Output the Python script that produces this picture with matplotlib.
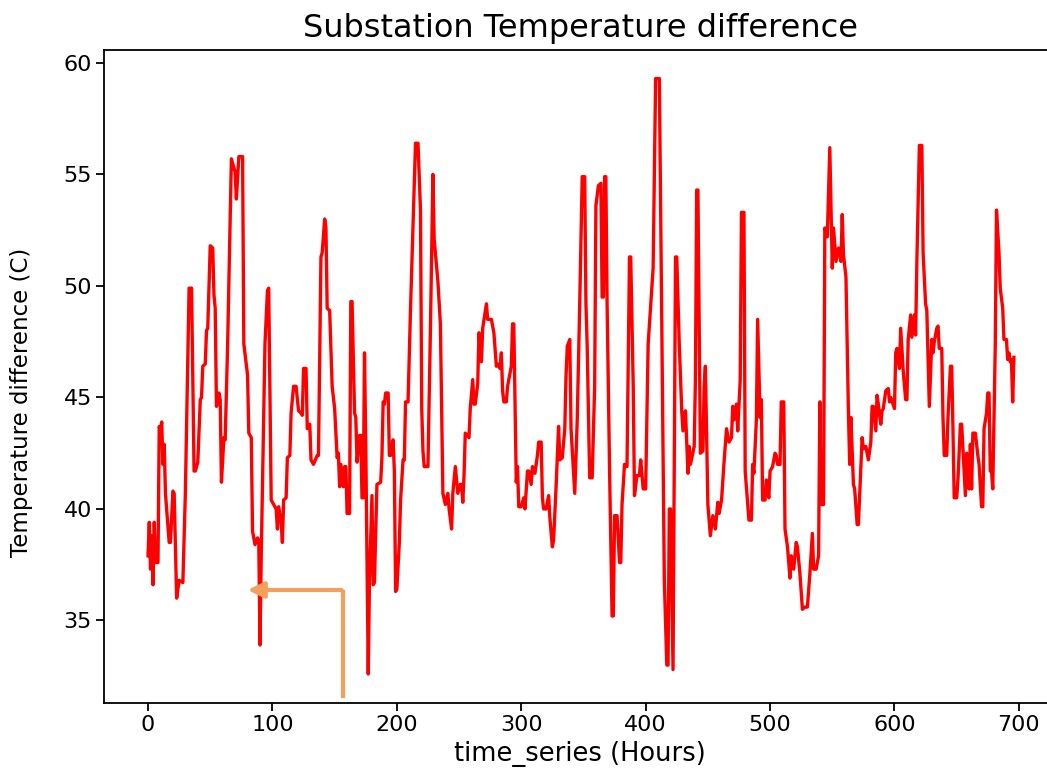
import matplotlib
matplotlib.use("Agg")
import matplotlib.pyplot as plt
from matplotlib.patches import FancyArrowPatch
from matplotlib.lines import Line2D

# values (hour, temperature difference)
hours = [0, 1, 2, 3, 4, 5, 6, 8, 9, 10, 11, 12, 13, 14, 17, 18, 20, 21, 23, 25,
         28, 30, 33, 35, 37, 38, 40, 42, 43, 44, 46, 47, 48, 50, 52, 53, 54, 55, 57, 58,
         59, 61, 62, 64, 67, 68, 70, 71, 73, 75, 76, 77, 80, 81, 83, 84, 86, 88, 89, 90,
         91, 92, 94, 96, 97, 99, 101, 103, 104, 105, 107, 108, 109, 111, 112, 114, 115, 117, 119, 121,
         123, 124, 125, 127, 128, 130, 131, 133, 136, 137, 139, 140, 142, 143, 144, 146, 148, 150, 152, 153,
         154, 155, 157, 158, 159, 160, 162, 163, 164, 166, 167, 168, 170, 171, 172, 173, 174, 175, 177, 178,
         180, 181, 182, 184, 187, 188, 189, 190, 191, 193, 194, 195, 197, 198, 199, 200, 202, 203, 205, 206,
         207, 209, 211, 215, 217, 219, 220, 221, 222, 225, 227, 229, 230, 233, 235, 236, 237, 239, 241, 242,
         244, 245, 247, 249, 251, 252, 253, 254, 255, 258, 259, 261, 262, 263, 265, 266, 268, 269, 272, 273,
         276, 278, 280, 281, 283, 284, 285, 286, 288, 289, 292, 293, 294, 296, 297, 298, 300, 302, 303, 305,
         306, 308, 309, 311, 313, 314, 316, 317, 318, 320, 322, 323, 325, 326, 328, 330, 331, 333, 335, 336,
         337, 339, 340, 343, 345, 347, 349, 351, 352, 353, 355, 357, 359, 360, 362, 364, 365, 366, 367, 368,
         369, 371, 373, 374, 375, 377, 379, 380, 381, 383, 385, 387, 388, 390, 391, 393, 395, 396, 398, 400,
         402, 406, 408, 411, 415, 417, 418, 419, 420, 422, 424, 425, 427, 429, 430, 432, 434, 435, 436, 439,
         440, 441, 442, 444, 446, 447, 448, 450, 452, 454, 456, 458, 459, 461, 463, 465, 467, 469, 470, 471,
         473, 474, 476, 477, 479, 480, 482, 483, 485, 486, 487, 489, 490, 492, 493, 494, 496, 497, 499, 500,
         502, 504, 505, 506, 508, 509, 511, 512, 514, 516, 517, 519, 521, 522, 524, 526, 528, 530, 532, 534,
         535, 537, 539, 540, 541, 543, 544, 546, 548, 550, 551, 553, 555, 557, 558, 559, 561, 563, 564, 565,
         567, 568, 570, 571, 574, 575, 577, 579, 581, 582, 583, 585, 586, 587, 589, 590, 591, 593, 595, 596,
         597, 600, 601, 602, 604, 605, 607, 609, 610, 611, 613, 614, 616, 617, 618, 620, 622, 623, 625, 626,
         628, 630, 631, 632, 634, 635, 636, 638, 639, 640, 642, 643, 645, 646, 647, 648, 650, 651, 653, 654,
         656, 657, 658, 659, 660, 661, 662, 663, 665, 667, 668, 670, 671, 672, 674, 675, 676, 677, 678, 679,
         681, 682, 684, 685, 687, 688, 690, 691, 692, 693, 694, 695, 696]

temp_diff = [37.9, 39.4, 37.3, 38.8, 36.6, 39.4, 37.6, 37.6, 43.7, 43.5, 43.9, 42.0, 42.9, 40.7, 38.5, 38.5, 40.8, 40.7, 36.0, 36.8,
             36.7, 40.7, 49.9, 49.9, 41.7, 41.7, 42.1, 44.9, 45.0, 46.4, 46.5, 48.0, 48.1, 51.8, 51.7, 49.6, 49.0, 44.6, 45.2, 44.9,
             41.2, 43.2, 43.1, 47.4, 55.7, 55.5, 55.1, 53.9, 55.8, 55.8, 55.8, 47.4, 46.0, 43.4, 43.2, 39.0, 38.4, 38.7, 38.6, 33.9,
             37.9, 41.1, 47.4, 49.8, 49.9, 40.4, 40.2, 40.0, 39.1, 40.1, 39.4, 38.5, 40.4, 40.5, 42.3, 42.4, 44.3, 45.5, 45.5, 44.4,
             44.3, 44.2, 46.3, 46.3, 43.6, 43.8, 42.2, 42.0, 42.4, 42.4, 51.3, 51.5, 53.0, 52.6, 49.0, 48.9, 45.5, 44.5, 42.3, 42.5,
             41.0, 42.0, 41.0, 41.9, 41.9, 39.8, 39.8, 49.3, 49.3, 44.3, 44.1, 42.1, 43.3, 43.3, 40.5, 40.5, 47.0, 43.0, 32.6, 36.8,
             40.6, 36.6, 36.7, 41.1, 41.2, 42.3, 44.8, 44.7, 45.2, 45.2, 42.4, 42.4, 43.1, 41.7, 36.3, 36.4, 38.5, 40.4, 42.2, 42.2,
             44.8, 44.8, 49.0, 56.4, 56.4, 53.4, 44.5, 42.6, 41.9, 41.9, 48.1, 55.0, 52.1, 50.2, 48.3, 44.5, 40.7, 40.2, 40.7, 40.0,
             39.1, 40.7, 41.9, 40.7, 41.1, 41.1, 40.3, 41.5, 43.4, 43.2, 44.5, 45.8, 44.7, 44.7, 45.6, 47.9, 46.6, 48.1, 49.2, 48.5,
             48.5, 47.9, 46.4, 46.5, 46.3, 47.0, 45.3, 44.8, 44.8, 45.5, 46.4, 48.3, 48.3, 41.2, 41.9, 40.1, 40.1, 40.5, 40.0, 41.7,
             41.7, 41.1, 41.9, 41.6, 42.4, 43.0, 43.0, 40.5, 40.0, 40.0, 40.6, 39.6, 38.3, 38.6, 41.0, 43.7, 42.2, 42.3, 43.6, 46.0,
             47.3, 47.6, 43.6, 40.7, 44.0, 49.2, 54.9, 54.9, 49.2, 47.3, 41.4, 41.4, 45.5, 53.6, 54.5, 54.6, 49.5, 49.5, 54.9, 54.9,
             49.2, 41.7, 35.2, 35.2, 39.7, 39.7, 37.6, 37.6, 40.2, 42.0, 41.9, 51.3, 51.3, 45.5, 40.6, 41.5, 41.5, 42.2, 40.9, 40.9,
             47.4, 50.8, 59.3, 59.3, 36.8, 33.0, 33.0, 40.0, 40.0, 32.8, 51.3, 51.3, 47.4, 44.4, 43.5, 44.4, 41.6, 42.8, 42.0, 42.8,
             45.8, 54.3, 54.3, 42.5, 42.6, 45.5, 46.4, 40.2, 38.8, 39.7, 39.1, 40.3, 39.8, 40.4, 42.1, 43.6, 43.0, 43.2, 44.6, 44.0,
             44.7, 43.5, 45.8, 53.3, 53.3, 41.7, 40.2, 39.5, 39.5, 42.0, 41.6, 44.0, 48.5, 44.1, 44.9, 40.4, 40.4, 41.3, 40.5, 41.7,
             41.9, 42.5, 42.4, 42.0, 42.0, 44.8, 44.8, 39.1, 38.3, 36.9, 37.9, 37.3, 38.5, 38.3, 37.1, 35.5, 35.6, 35.6, 37.1, 38.9,
             37.3, 37.3, 37.9, 44.8, 40.2, 40.2, 52.6, 52.2, 56.2, 50.8, 52.6, 51.1, 51.7, 51.1, 53.2, 51.4, 50.4, 44.3, 42.0, 44.1,
             41.1, 40.9, 39.3, 39.3, 43.2, 42.7, 42.8, 42.2, 43.0, 44.6, 44.6, 43.5, 45.1, 44.7, 43.8, 44.4, 44.5, 45.3, 45.4, 44.8,
             45.0, 44.5, 47.0, 47.2, 46.3, 48.1, 46.2, 44.9, 44.9, 47.6, 48.7, 47.7, 48.7, 47.8, 51.1, 56.3, 56.3, 51.5, 49.2, 48.9,
             44.6, 47.6, 47.0, 47.5, 48.1, 48.2, 47.2, 47.2, 44.1, 42.4, 42.4, 44.1, 46.4, 46.4, 43.6, 40.5, 40.5, 41.3, 43.8, 43.8,
             41.7, 40.6, 42.5, 42.4, 40.9, 42.9, 40.9, 43.4, 43.4, 42.4, 42.0, 40.1, 40.1, 43.6, 44.3, 45.2, 45.2, 41.7, 41.7, 40.9,
             47.3, 53.4, 51.5, 49.9, 49.0, 47.6, 47.6, 46.7, 47.0, 46.6, 46.7, 44.8, 46.8]

x_ticks = [0, 100, 200, 300, 400, 500, 600, 700]
y_ticks = [35, 40, 45, 50, 55, 60]


def main():
    fig = plt.figure(figsize=(10.47, 7.83), dpi=100)
    # axes runs past the right edge, like the cropped reference
    ax = fig.add_axes([0.0998, 0.1022, 0.9090, 0.8345])
    ax.plot(hours, temp_diff, color="red", linewidth=2.4)
    ax.set_xlim(-35, 730)
    ax.set_ylim(31.3, 60.6)
    ax.set_xticks(x_ticks)
    ax.set_yticks(y_ticks)
    ax.tick_params(labelsize=16, length=5.5, width=1.3)
    for s in ax.spines.values():
        s.set_linewidth(1.3)
    ax.spines["right"].set_visible(False)
    ax.set_title("Substation Temperature difference", fontsize=23, pad=9)
    ax.set_xlabel("time_series (Hours)", fontsize=18.5, labelpad=4)
    ax.set_ylabel("Temperature difference (C)", fontsize=16.5)
    ax.yaxis.set_label_coords(-0.075, 0.46)

    # orange elbow arrow drawn on top of the chart
    orange = "#f4a05a"
    fig.add_artist(Line2D([343 / 1047, 343 / 1047], [1 - 698 / 783, 1 - 590 / 783],
                          transform=fig.transFigure, color=orange, linewidth=3.0,
                          solid_capstyle="butt"))
    arr = FancyArrowPatch((344.5 / 1047, 1 - 590 / 783), (245 / 1047, 1 - 590 / 783),
                          transform=fig.transFigure, arrowstyle="-|>,head_length=0.8,head_width=0.4",
                          mutation_scale=12, color=orange, linewidth=3.0)
    fig.add_artist(arr)

    fig.savefig("out.png", dpi=100)


if __name__ == "__main__":
    main()
